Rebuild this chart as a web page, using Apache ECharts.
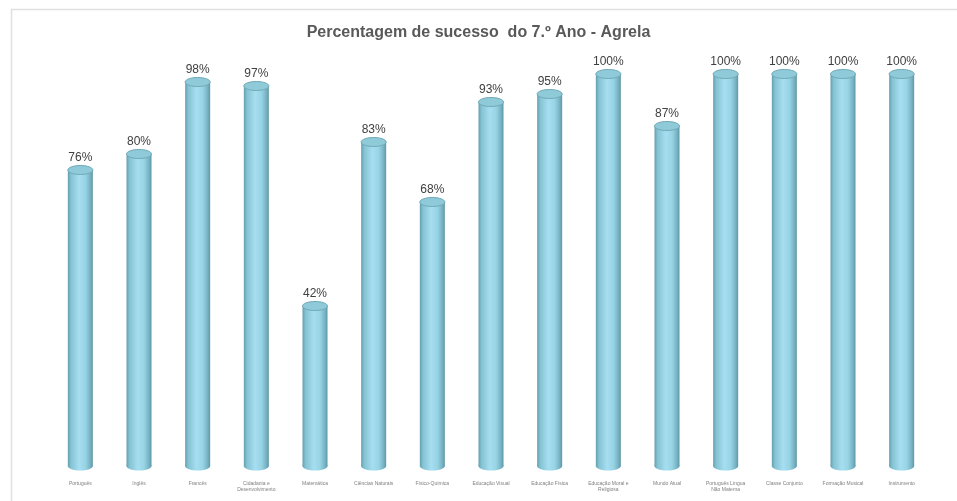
<!DOCTYPE html>
<html><head><meta charset="utf-8">
<script src="https://cdn.jsdelivr.net/npm/echarts@6/dist/echarts.min.js"></script>
<style>html,body{margin:0;padding:0;background:#fff}#c{width:957px;height:501px}</style>
</head><body><div id="c"></div>
<script>
const categories = ['Português','Inglês','Francês','Cidadania e\nDesenvolvimento','Matemática','Ciências Naturais','Físico-Química','Educação Visual','Educação Física','Educação Moral e\nReligiosa','Mundo Atual','Português Língua\nNão Materna','Classe Conjunto','Formação Musical','Instrumento'];
const values = [76,80,98,97,42,83,68,93,95,100,87,100,100,100,100];

const chart = echarts.init(document.getElementById('c'));
chart.setOption({
  backgroundColor:'#fff',
  animation:false,
  title:{text:'Percentagem de sucesso  do 7.º Ano - Agrela',left:'center',top:20,
    textStyle:{fontFamily:'Liberation Sans, Arial',fontSize:16,fontWeight:'bold',color:'#595959'}},
  graphic:[
    {type:'polyline',shape:{points:[[11.5,501],[11.5,9.5],[957,9.5]]},style:{fill:'none',stroke:'#e0e0e0',lineWidth:1.5},silent:true}
  ],
  grid:{left:51,right:26,top:74,bottom:27},
  xAxis:{type:'category',data:categories,axisLine:{show:false},axisTick:{show:false},
    axisLabel:{interval:0,fontSize:5,color:'#7f7f7f',margin:7,lineHeight:6,fontFamily:'Liberation Sans, Arial'}},
  yAxis:{type:'value',min:0,max:100,show:false,splitLine:{show:false}},
  series:[{
    type:'custom',
    data:values.map((v,i)=>[i,v]),
    encode:{x:0,y:1},
    renderItem:function(params,api){
      const t = api.coord([api.value(0), api.value(1)]);
      const b = api.coord([api.value(0), 0]);
      const cx = t[0], rx = 12.5, ry = 4.5;
      const topY = t[1], botY = b[1]-8;
      const grad = new echarts.graphic.LinearGradient(0,0,1,0,[
        {offset:0,color:'#639eae'},{offset:0.12,color:'#84c2d2'},{offset:0.45,color:'#a6def0'},
        {offset:0.7,color:'#97d4e5'},{offset:0.9,color:'#77b2c2'},{offset:1,color:'#5e97a6'}]);
      return {type:'group',children:[
        {type:'ellipse',shape:{cx:cx,cy:botY,rx:rx,ry:ry},style:{fill:grad}},
        {type:'rect',shape:{x:cx-rx,y:topY,width:rx*2,height:botY-topY},style:{fill:grad}},
        {type:'ellipse',shape:{cx:cx,cy:topY,rx:rx,ry:ry},style:{fill:'#8fcad8',stroke:'#71a9b7',lineWidth:1}},
        {type:'text',x:cx,y:topY-12,style:{text:api.value(1)+'%',fill:'#404040',fontSize:12,
          fontFamily:'Liberation Sans, Arial',align:'center',verticalAlign:'middle'}}
      ]};
    }
  }]
});
</script></body></html>
